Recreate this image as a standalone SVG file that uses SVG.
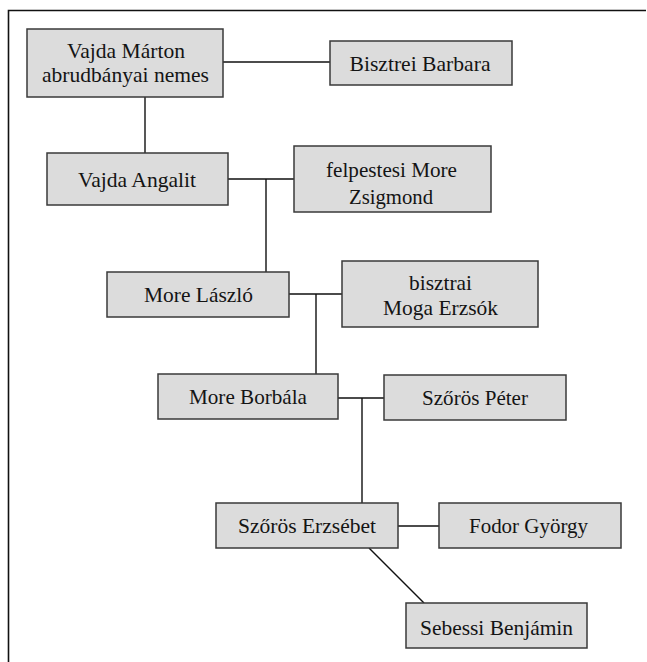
<svg xmlns="http://www.w3.org/2000/svg" width="647" height="662" viewBox="0 0 647 662">
<rect width="647" height="662" fill="#fff"/>
<path d="M8.5,662V10.5H646" stroke="#111" stroke-width="1.6" fill="none"/>
<g id="connectors" stroke="#111" stroke-width="1.4" fill="none">
<path d="M223,62H330"/>
<path d="M145,97V153"/>
<path d="M228,179H294M266,179V272"/>
<path d="M289,294H342M316,294V374"/>
<path d="M338,398H384M362,398V503"/>
<path d="M398,526H439"/>
<path d="M369,548L424,603"/>
</g>
<g id="n1"><rect fill="#dcdcdc" stroke="#3a3a3a" stroke-width="1.5" x="27" y="29" width="196" height="68"/><text style="font-family:'Liberation Serif',serif !important;font-size:22px !important" font-family="Liberation Serif" font-size="22" text-anchor="middle" fill="#141414" x="126" y="58" textLength="118" lengthAdjust="spacingAndGlyphs">Vajda Márton</text><text style="font-family:'Liberation Serif',serif !important;font-size:22px !important" font-family="Liberation Serif" font-size="22" text-anchor="middle" fill="#141414" x="125.5" y="82" textLength="167" lengthAdjust="spacingAndGlyphs">abrudbányai nemes</text></g>
<g id="n2"><rect fill="#dcdcdc" stroke="#3a3a3a" stroke-width="1.5" x="330" y="41" width="182" height="44"/><text style="font-family:'Liberation Serif',serif !important;font-size:22px !important" font-family="Liberation Serif" font-size="22" text-anchor="middle" fill="#141414" x="420" y="71" textLength="141" lengthAdjust="spacingAndGlyphs">Bisztrei Barbara</text></g>
<g id="n3"><rect fill="#dcdcdc" stroke="#3a3a3a" stroke-width="1.5" x="47" y="153" width="181" height="52"/><text style="font-family:'Liberation Serif',serif !important;font-size:22px !important" font-family="Liberation Serif" font-size="22" text-anchor="middle" fill="#141414" x="137" y="187" textLength="118" lengthAdjust="spacingAndGlyphs">Vajda Angalit</text></g>
<g id="n4"><rect fill="#dcdcdc" stroke="#3a3a3a" stroke-width="1.5" x="294" y="146" width="197" height="66"/><text style="font-family:'Liberation Serif',serif !important;font-size:22px !important" font-family="Liberation Serif" font-size="22" text-anchor="middle" fill="#141414" x="391.5" y="177" textLength="131" lengthAdjust="spacingAndGlyphs">felpestesi More</text><text style="font-family:'Liberation Serif',serif !important;font-size:22px !important" font-family="Liberation Serif" font-size="22" text-anchor="middle" fill="#141414" x="391" y="204" textLength="84" lengthAdjust="spacingAndGlyphs">Zsigmond</text></g>
<g id="n5"><rect fill="#dcdcdc" stroke="#3a3a3a" stroke-width="1.5" x="107" y="272" width="182" height="45"/><text style="font-family:'Liberation Serif',serif !important;font-size:22px !important" font-family="Liberation Serif" font-size="22" text-anchor="middle" fill="#141414" x="198.5" y="302" textLength="109" lengthAdjust="spacingAndGlyphs">More László</text></g>
<g id="n6"><rect fill="#dcdcdc" stroke="#3a3a3a" stroke-width="1.5" x="342" y="261" width="196" height="66"/><text style="font-family:'Liberation Serif',serif !important;font-size:22px !important" font-family="Liberation Serif" font-size="22" text-anchor="middle" fill="#141414" x="440.5" y="290" textLength="63" lengthAdjust="spacingAndGlyphs">bisztrai</text><text style="font-family:'Liberation Serif',serif !important;font-size:22px !important" font-family="Liberation Serif" font-size="22" text-anchor="middle" fill="#141414" x="440.5" y="315" textLength="115" lengthAdjust="spacingAndGlyphs">Moga Erzsók</text></g>
<g id="n7"><rect fill="#dcdcdc" stroke="#3a3a3a" stroke-width="1.5" x="158" y="374" width="180" height="45"/><text style="font-family:'Liberation Serif',serif !important;font-size:22px !important" font-family="Liberation Serif" font-size="22" text-anchor="middle" fill="#141414" x="248" y="404" textLength="118" lengthAdjust="spacingAndGlyphs">More Borbála</text></g>
<g id="n8"><rect fill="#dcdcdc" stroke="#3a3a3a" stroke-width="1.5" x="384" y="375" width="182" height="45"/><text style="font-family:'Liberation Serif',serif !important;font-size:22px !important" font-family="Liberation Serif" font-size="22" text-anchor="middle" fill="#141414" x="475" y="405" textLength="106" lengthAdjust="spacingAndGlyphs">Szőrös Péter</text></g>
<g id="n9"><rect fill="#dcdcdc" stroke="#3a3a3a" stroke-width="1.5" x="216" y="503" width="182" height="45"/><text style="font-family:'Liberation Serif',serif !important;font-size:22px !important" font-family="Liberation Serif" font-size="22" text-anchor="middle" fill="#141414" x="307" y="533" textLength="138" lengthAdjust="spacingAndGlyphs">Szőrös Erzsébet</text></g>
<g id="n10"><rect fill="#dcdcdc" stroke="#3a3a3a" stroke-width="1.5" x="439" y="503" width="182" height="45"/><text style="font-family:'Liberation Serif',serif !important;font-size:22px !important" font-family="Liberation Serif" font-size="22" text-anchor="middle" fill="#141414" x="528.5" y="533" textLength="119" lengthAdjust="spacingAndGlyphs">Fodor György</text></g>
<g id="n11"><rect fill="#dcdcdc" stroke="#3a3a3a" stroke-width="1.5" x="406" y="603" width="181" height="45"/><text style="font-family:'Liberation Serif',serif !important;font-size:22px !important" font-family="Liberation Serif" font-size="22" text-anchor="middle" fill="#141414" x="496.5" y="634.5" textLength="153" lengthAdjust="spacingAndGlyphs">Sebessi Benjámin</text></g>
</svg>
